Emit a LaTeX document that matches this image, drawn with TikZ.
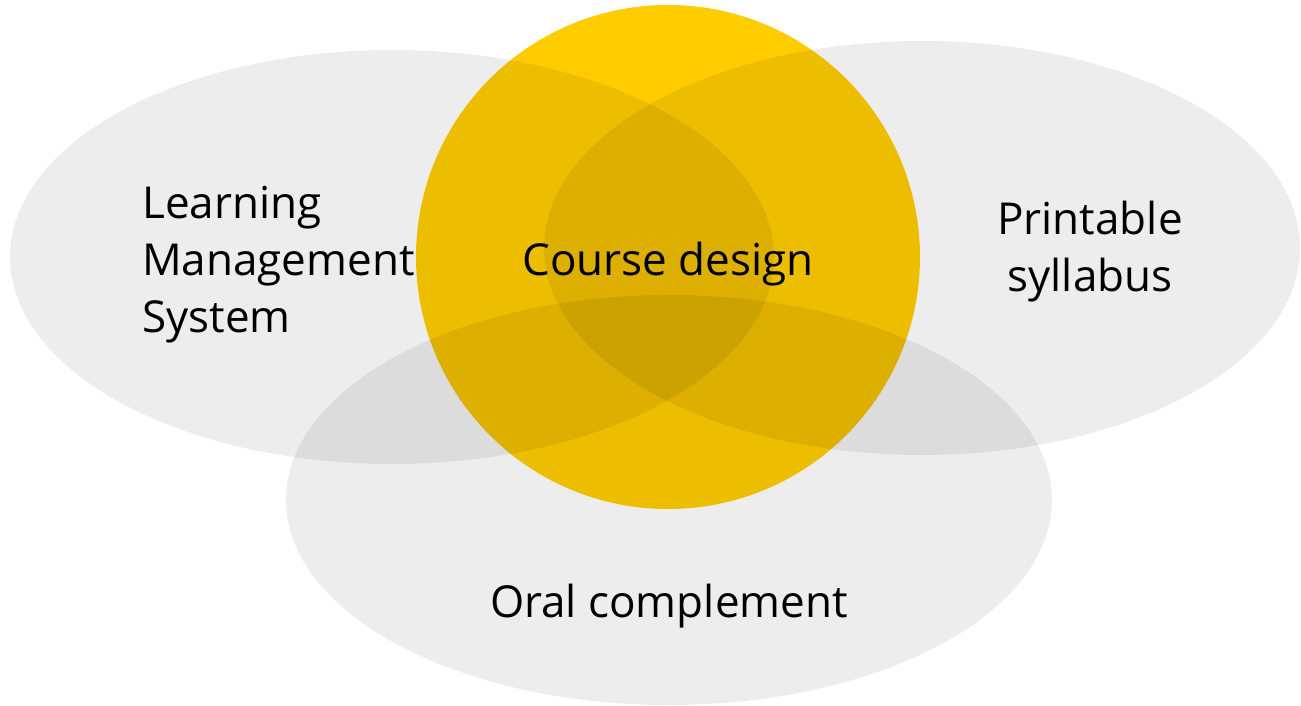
\documentclass[tikz,border=0pt]{standalone}
\usepackage{fontspec}
\setmainfont{Open Sans}
\definecolor{gold}{HTML}{FFCC00}
\tikzset{
  shade set/.style={fill=black, fill opacity=0.07, draw=none},
  label text/.style={font=\fontsize{44}{57}\selectfont, text=black, inner sep=0pt}
}
\begin{document}
\begin{tikzpicture}[x=1pt, y=-1pt]
  \useasboundingbox (0,0) rectangle (1301,706);
  % central circle
  \fill[gold] (668,257) circle[radius=252pt];
  % three surrounding sets, darkening what lies beneath
  \path[shade set] (392,257) ellipse[x radius=382pt, y radius=207pt];
  \path[shade set] (922,248) ellipse[x radius=378pt, y radius=207pt];
  \path[shade set] (669,500) ellipse[x radius=383pt, y radius=205pt];
  % labels (base anchor of a multi-line node sits on its last line)
  \node[label text, anchor=base west, align=left] (lms) at (142,332)
    {Learning\\Management\\System};
  \node[label text, anchor=base] (course) at (668,275) {Course design};
  \node[label text, anchor=base, align=center] (print) at (1090,291)
    {Printable\\syllabus};
  \node[label text, anchor=base] (oral) at (669,617) {Oral complement};
\end{tikzpicture}
\end{document}
